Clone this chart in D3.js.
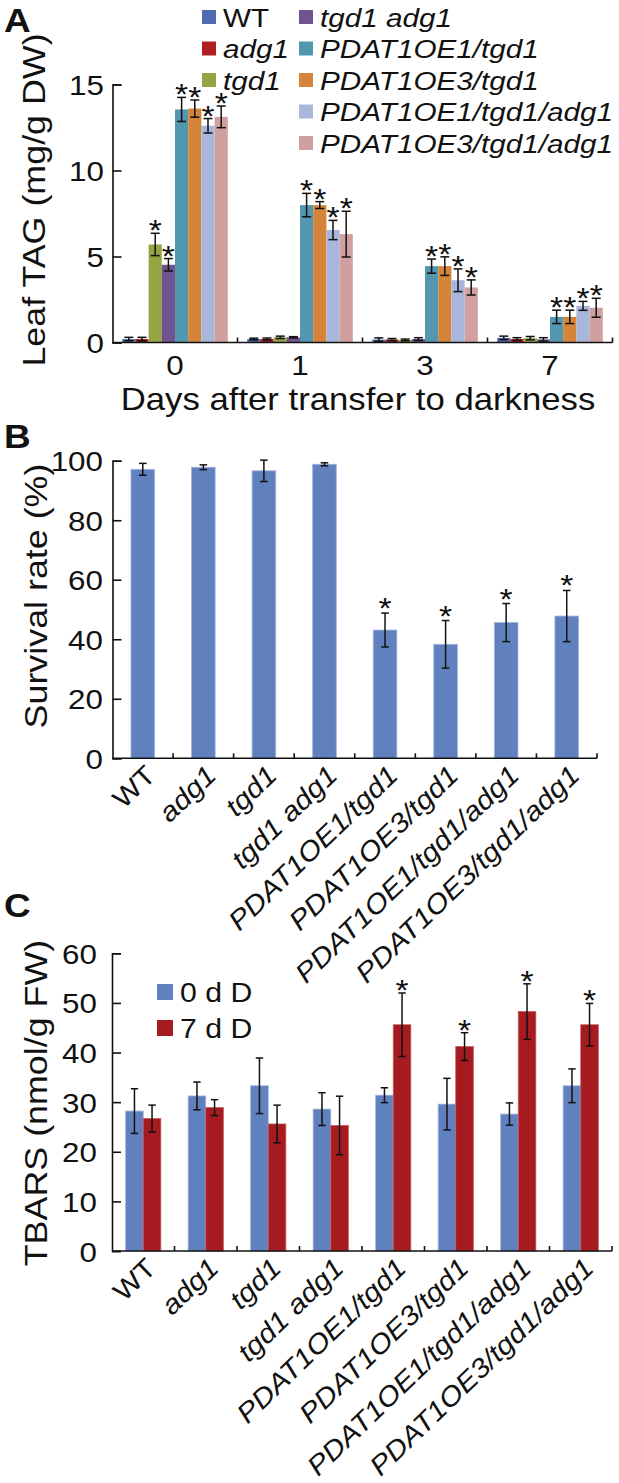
<!DOCTYPE html>
<html><head><meta charset="utf-8">
<script src="https://cdn.jsdelivr.net/npm/d3@7"></script>
<style>body{margin:0;background:#fff}svg{display:block}</style>
</head><body><svg id="c" width="619" height="1483"></svg>
<script>
// ---------- data ----------
const days = ["0", "1", "3", "7"];
const genotypes = ["WT", "adg1", "tgd1", "tgd1 adg1", "PDAT1OE1/tgd1", "PDAT1OE3/tgd1", "PDAT1OE1/tgd1/adg1", "PDAT1OE3/tgd1/adg1"];

// Panel A: leaf TAG (mg/g DW), values per genotype for each day
const tagDay0 = [0.2, 0.2, 5.7, 4.52, 13.55, 13.6, 12.6, 13.12];
const tagDay1 = [0.2, 0.2, 0.3, 0.3, 7.99, 7.99, 6.54, 6.3];
const tagDay3 = [0.17, 0.17, 0.15, 0.2, 4.44, 4.44, 3.62, 3.2];
const tagDay7 = [0.27, 0.2, 0.25, 0.18, 1.49, 1.49, 2.13, 2.02];
const tagErrDay0 = [0.1, 0.1, 0.65, 0.36, 0.7, 0.5, 0.42, 0.63];
const tagErrDay1 = [0.05, 0.06, 0.07, 0.04, 0.68, 0.2, 0.56, 1.33];
const tagErrDay3 = [0.1, 0.06, 0.05, 0.08, 0.41, 0.54, 0.66, 0.44];
const tagErrDay7 = [0.1, 0.08, 0.1, 0.1, 0.39, 0.39, 0.26, 0.55];
const tagSigDay0 = [0, 0, 1, 1, 1, 1, 1, 1];
const tagSigDay1 = [0, 0, 0, 0, 1, 1, 1, 1];
const tagSigDay3 = [0, 0, 0, 0, 1, 1, 1, 1];
const tagSigDay7 = [0, 0, 0, 0, 1, 1, 1, 1];
const tagTicks = [0, 5, 10, 15];

// Panel B: survival rate (%)
const survival = [97.1, 97.8, 96.6, 98.8, 43.1, 38.3, 45.6, 47.8];
const survivalErr = [2.0, 0.8, 3.6, 0.5, 5.7, 8.0, 6.4, 8.6];
const survivalSig = [0, 0, 0, 0, 1, 1, 1, 1];
const survivalTicks = [0, 20, 40, 60, 80, 100];

// Panel C: TBARS (nmol/g FW)
const tbarsSeries = ["0 d D", "7 d D"];
const tbars0 = [28.2, 31.25, 33.3, 28.6, 31.4, 29.6, 27.6, 33.3];
const tbars0Err = [4.5, 2.8, 5.6, 3.3, 1.5, 5.2, 2.25, 3.4];
const tbars7 = [26.7, 28.9, 25.6, 25.3, 45.6, 41.2, 48.25, 45.6];
const tbars7Err = [2.7, 1.6, 3.8, 5.9, 6.4, 2.8, 5.6, 4.3];
const tbars7Sig = [0, 0, 0, 0, 1, 1, 1, 1];
const tbarsTicks = [0, 10, 20, 30, 40, 50, 60];

// ---------- styles ----------
const genotypeColors = ["#4E6CAE", "#B01E22", "#94A643", "#71548F", "#5396B0", "#D4853A", "#A7B6DA", "#D0A0A0"];
const blue = "#6181BE", red = "#A51B1F";
const SX = 1.12;
const FONT = "'Liberation Sans', Arial, Helvetica, sans-serif";
const INK = "#111";

const svg = d3.select("#c");
svg.append("rect").attr("width", 619).attr("height", 1483).attr("fill", "#fff");

function label(g, x, y, str, o = {}) {
  const t = g.append("text")
    .attr("transform", `translate(${x},${y}) rotate(${o.rotate || 0}) scale(${SX},1)`)
    .attr("text-anchor", o.anchor || "start")
    .attr("font-size", o.size || 28)
    .attr("font-family", FONT)
    .attr("font-style", o.italic ? "italic" : "normal")
    .attr("font-weight", o.bold ? "bold" : "normal")
    .attr("fill", INK)
    .text(str);
  if (o.dy) t.attr("dy", o.dy);
  return t;
}
function yAxis(g, scale, x, ticks, labelRight) {
  const ax = d3.axisLeft(scale).tickValues(ticks).tickSize(-9).tickPadding(0).tickFormat(d3.format("d"));
  const a = g.append("g").attr("transform", `translate(${x},0)`).call(ax);
  a.attr("font-family", FONT).attr("font-size", 28);
  a.select(".domain").attr("stroke", INK).attr("stroke-width", 1.6);
  a.selectAll(".tick line").attr("stroke", INK).attr("stroke-width", 1.6);
  a.selectAll(".tick text").attr("x", null).attr("dy", null).attr("fill", INK)
    .attr("transform", `translate(${labelRight - x},10) scale(${SX},1)`);
}
function xLine(g, x0, x1, y, seps) {
  g.append("line").attr("x1", x0).attr("x2", x1).attr("y1", y).attr("y2", y)
    .attr("stroke", INK).attr("stroke-width", 1.6);
  seps.forEach(s => g.append("line").attr("x1", s).attr("x2", s).attr("y1", y).attr("y2", y - 5)
    .attr("stroke", INK).attr("stroke-width", 1.6));
}
function errBar(g, cx, yTop, yBot, cap) {
  g.append("line").attr("x1", cx).attr("x2", cx).attr("y1", yTop).attr("y2", yBot).attr("stroke", INK).attr("stroke-width", 1.5);
  [yTop, yBot].forEach(y => g.append("line").attr("x1", cx - cap).attr("x2", cx + cap).attr("y1", y).attr("y2", y).attr("stroke", INK).attr("stroke-width", 1.5));
}
function star(g, cx, yTop, gap) {
  label(g, cx, yTop - gap + 17, "*", {anchor: "middle", size: 30});
}

// ---------- Panel A ----------
{
  const g = svg.append("g");
  const means = [tagDay0, tagDay1, tagDay3, tagDay7];
  const errs = [tagErrDay0, tagErrDay1, tagErrDay3, tagErrDay7];
  const sigs = [tagSigDay0, tagSigDay1, tagSigDay3, tagSigDay7];
  const x = d3.scaleBand().domain(days).range([112.5, 612.5]).padding(0);
  const xi = d3.scaleBand().domain(genotypes).range([0, x.bandwidth()]).paddingInner(0).paddingOuter(0.735);
  const y = d3.scaleLinear().domain([0, 15]).range([342.5, 84.5]);
  const color = d3.scaleOrdinal().domain(genotypes).range(genotypeColors);

  days.forEach((d, di) => {
    genotypes.forEach((gt, gi) => {
      const v = means[di][gi], e = errs[di][gi];
      const bx = x(d) + xi(gt);
      g.append("rect").attr("x", bx).attr("y", y(v)).attr("width", xi.bandwidth()).attr("height", y(0) - y(v)).attr("fill", color(gt));
      const cx = bx + xi.bandwidth() / 2;
      errBar(g, cx, y(v + e), y(Math.max(0, v - e)), 4.5);
      if (sigs[di][gi]) star(g, cx, y(v + e), 10);
    });
  });
  yAxis(g, y, 112.5, tagTicks, 104);
  xLine(g, 112.5, 612.5, 342.5, days.map(d => x(d) + x.bandwidth()));
  days.forEach(d => label(g, x(d) + x.bandwidth() / 2, 375, d, {anchor: "middle", size: 28}));
  label(g, 358, 410, "Days after transfer to darkness", {anchor: "middle", size: 31});
  label(g, 45, 200, "Leaf TAG (mg/g DW)", {anchor: "middle", size: 32, rotate: -90});
  label(g, 4, 32, "A", {size: 33, bold: true});

  // legend
  const rowsY = [17, 48.5, 80, 111.5, 143];
  genotypes.forEach((gt, i) => {
    const col = i < 3 ? 0 : 1;
    const row = i < 3 ? i : i - 3;
    const sx = col === 0 ? 202 : 299;
    const cy = rowsY[row];
    g.append("rect").attr("x", sx).attr("y", cy - 7).attr("width", 14).attr("height", 14).attr("fill", color(gt));
    label(g, sx + 21, cy + 9.5, gt, {size: 26.5, italic: gt !== "WT"});
  });
}

// ---------- Panel B ----------
{
  const g = svg.append("g");
  const x = d3.scaleBand().domain(genotypes).range([112.5, 597]).paddingInner(0.61).paddingOuter(0.305);
  const y = d3.scaleLinear().domain([0, 100]).range([758.3, 460.7]);
  genotypes.forEach((gt, i) => {
    const v = survival[i], e = survivalErr[i];
    g.append("rect").attr("x", x(gt)).attr("y", y(v)).attr("width", x.bandwidth()).attr("height", y(0) - y(v))
      .attr("fill", blue).attr("stroke", "#9FB3DD").attr("stroke-width", 0.8);
    const cx = x(gt) + x.bandwidth() / 2;
    errBar(g, cx, y(v + e), y(v - e), 3.8);
    if (survivalSig[i]) star(g, cx, y(v + e), 12);
  });
  yAxis(g, y, 112.5, survivalTicks, 103);
  xLine(g, 112.5, 597, 758.3, genotypes.map((gt, i) => 112.5 + x.step() * (i + 1)));
  genotypes.forEach(gt => label(g, x(gt) + x.bandwidth() / 2 + 8, 758.3 + 12, gt, {anchor: "end", size: 27, rotate: -44, italic: gt !== "WT", dy: "0.35em"}));
  label(g, 47, 596, "Survival rate (%)", {anchor: "middle", size: 32, rotate: -90});
  label(g, 4, 448, "B", {size: 33, bold: true});
}

// ---------- Panel C ----------
{
  const g = svg.append("g");
  const x = d3.scaleBand().domain(genotypes).range([112, 612]).paddingInner(0.437).paddingOuter(0.2185);
  const xi = d3.scaleBand().domain(tbarsSeries).range([0, x.bandwidth()]);
  const y = d3.scaleLinear().domain([0, 60]).range([1251, 953.3]);
  const means = [tbars0, tbars7], errs = [tbars0Err, tbars7Err];
  const fills = [blue, red], strokes = ["#9FB3DD", "#C45A5C"];
  genotypes.forEach((gt, i) => {
    tbarsSeries.forEach((s, si) => {
      const v = means[si][i], e = errs[si][i];
      const bx = x(gt) + xi(s);
      g.append("rect").attr("x", bx).attr("y", y(v)).attr("width", xi.bandwidth()).attr("height", y(0) - y(v))
        .attr("fill", fills[si]).attr("stroke", strokes[si]).attr("stroke-width", 0.8);
      const cx = bx + xi.bandwidth() / 2;
      errBar(g, cx, y(v + e), y(v - e), 3.7);
      if (si === 1 && tbars7Sig[i]) star(g, cx, y(v + e), 10);
    });
  });
  yAxis(g, y, 112, tbarsTicks, 97);
  xLine(g, 112, 612, 1251, genotypes.map((gt, i) => 112 + x.step() * (i + 1)));
  genotypes.forEach(gt => label(g, x(gt) + x.bandwidth() / 2 + 8, 1251 + 12, gt, {anchor: "end", size: 27, rotate: -44, italic: gt !== "WT", dy: "0.35em"}));
  label(g, 47, 1103, "TBARS (nmol/g FW)", {anchor: "middle", size: 32, rotate: -90});
  label(g, 4, 917, "C", {size: 33, bold: true});
  // legend
  tbarsSeries.forEach((s, si) => {
    const cy = [992, 1028][si];
    g.append("rect").attr("x", 157).attr("y", cy - 8).attr("width", 16).attr("height", 16).attr("fill", fills[si]);
    label(g, 180, cy + 10, s, {size: 27});
  });
}
</script></body></html>
